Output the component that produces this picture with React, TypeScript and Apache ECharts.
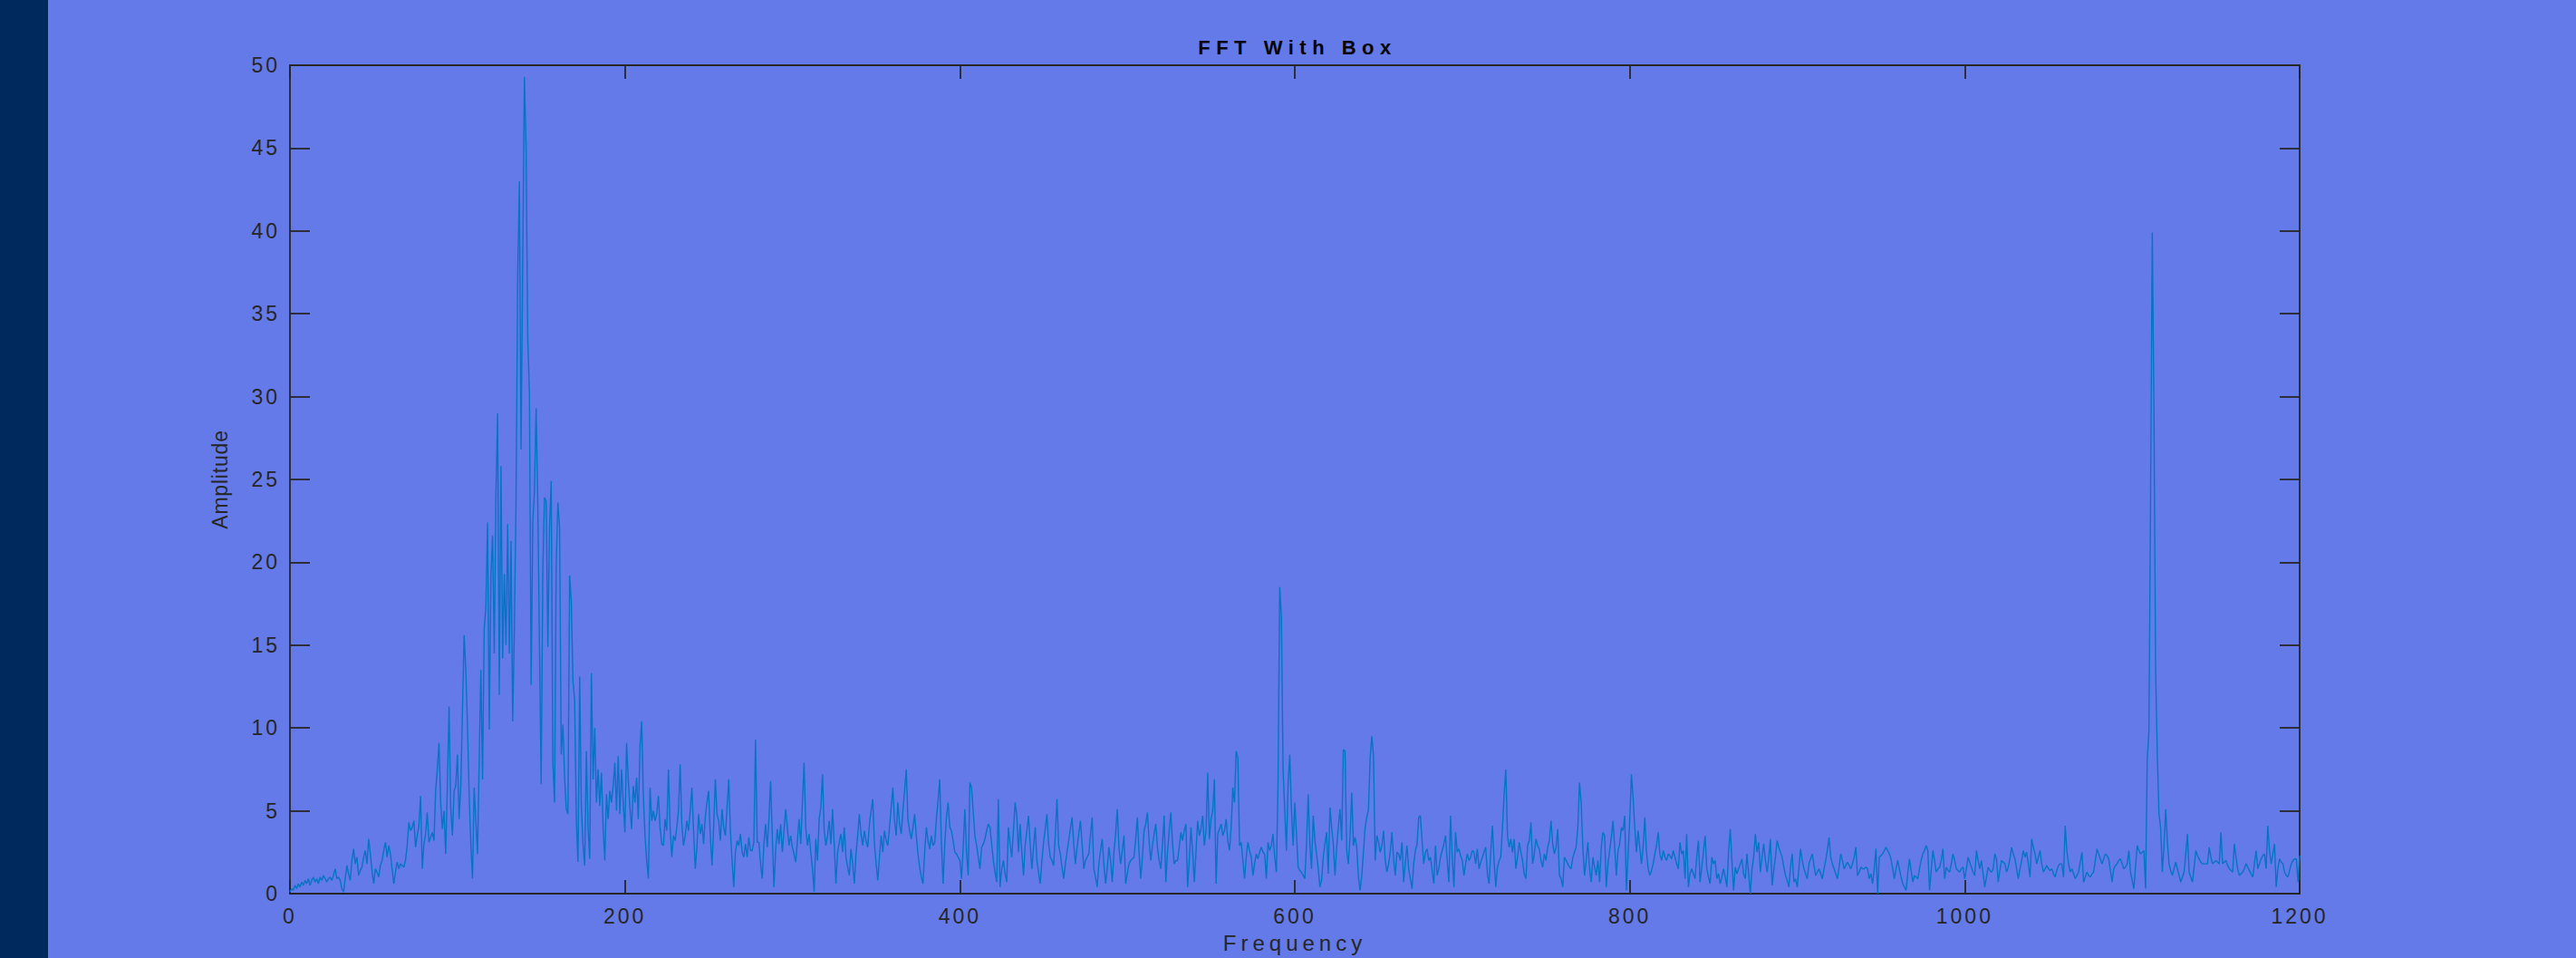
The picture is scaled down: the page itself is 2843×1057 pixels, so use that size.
import React, { useEffect, useRef } from "react";
import * as echarts from "echarts";

const TITLE = "FFT With Box";
const X_NAME = "Frequency";
const Y_NAME = "Amplitude";

const X_MIN = 0;
const X_MAX = 1200;
const X_STEP = 200;
const Y_MIN = 0;
const Y_MAX = 50;
const Y_STEP = 5;

// Amplitude per 1 Hz, 0..199
const amp0 = [
  0.1, 0.3, 0.2, 0.5, 0.3, 0.6, 0.4, 0.7, 0.5, 0.8, 0.6, 0.9, 0.5, 0.8, 1.0, 0.7, 0.9, 0.6, 1.0, 0.8,
  1.1, 0.9, 0.7, 0.9, 1.0, 0.8, 1.1, 1.5, 0.9, 1.0, 0.8, 0.3, 0.1, 0.9, 1.7, 1.2, 0.8, 2.0, 2.7, 1.8,
  2.2, 1.1, 1.4, 1.6, 2.2, 2.6, 1.8, 3.3, 2.4, 1.4, 0.6, 1.5, 1.3, 1.0, 1.7, 2.0, 2.6, 3.1, 2.2, 2.9,
  2.4, 1.5, 0.6, 1.3, 1.9, 1.5, 1.8, 1.7, 1.6, 2.0, 2.9, 4.3, 3.8, 4.0, 4.4, 2.8, 3.5, 4.1, 5.9, 1.5,
  3.0, 3.6, 4.9, 3.1, 3.4, 3.7, 3.2, 6.2, 7.5, 9.1, 5.5, 3.9, 5.0, 2.4, 6.5, 11.3, 5.2, 3.5, 6.2, 6.5,
  8.4, 4.5, 6.5, 11.0, 15.6, 13.5, 10.2, 6.0, 3.0, 0.9, 6.4, 4.4, 2.4, 8.0, 13.5, 6.9, 16.0, 17.3, 22.4, 9.9,
  19.2, 21.6, 14.5, 24.1, 29.0, 12.0, 25.8, 14.2, 19.3, 15.0, 22.3, 14.5, 21.3, 10.4, 16.0, 23.7, 37.3, 43.0, 26.8, 38.3,
  49.3, 45.0, 33.5, 30.2, 12.6, 22.4, 24.3, 29.3, 23.5, 14.9, 6.6, 19.6, 23.9, 23.7, 14.9, 22.1, 24.9, 7.9, 5.5, 19.9,
  23.6, 22.1, 8.4, 10.2, 7.0, 5.1, 4.8, 19.2, 17.6, 12.8, 11.7, 4.4, 1.9, 13.1, 5.3, 3.0, 1.7, 8.6, 4.0, 2.1,
  13.3, 6.9, 10.0, 5.5, 7.5, 5.3, 7.3, 4.0, 2.0, 6.0, 4.5, 6.2, 5.5, 6.5, 7.9, 5.0, 8.3, 4.8, 7.5, 5.5,
];

// 200..399
const amp200 = [
  3.7, 9.1, 6.9, 5.2, 3.9, 6.5, 5.5, 7.0, 4.5, 8.8, 10.4, 6.0, 3.5, 2.0, 0.9, 6.4, 4.4, 5.0, 4.4, 4.8,
  5.9, 4.0, 3.0, 2.9, 4.5, 3.8, 7.5, 4.0, 2.2, 3.5, 3.2, 4.0, 5.0, 7.8, 4.2, 2.9, 3.5, 4.4, 3.8, 5.0,
  6.4, 3.8, 1.5, 2.8, 4.8, 3.6, 4.2, 3.0, 4.6, 5.5, 6.2, 3.5, 1.7, 4.0, 6.9, 4.8, 4.4, 3.2, 5.1, 4.0,
  3.5, 5.2, 6.9, 3.8, 2.0, 0.4, 2.5, 3.2, 2.9, 3.6, 2.5, 2.2, 3.0, 2.2, 3.4, 2.6, 2.6, 3.1, 9.3, 3.1,
  3.1, 1.8, 0.9, 3.0, 4.2, 2.8, 4.5, 6.8, 3.5, 0.4, 2.6, 3.9, 3.0, 4.2, 2.5, 3.8, 5.1, 4.0, 2.9, 3.5,
  2.8, 2.4, 1.9, 3.2, 4.5, 3.0, 5.5, 7.9, 4.0, 2.9, 3.6, 2.5, 1.5, 0.1, 3.3, 2.0, 4.5, 5.2, 7.2, 3.8,
  2.9, 3.5, 4.4, 3.0, 5.1, 3.0, 0.6, 2.5, 3.1, 3.6, 2.5, 4.0, 2.2, 1.6, 1.1, 2.7, 1.8, 0.6, 2.4, 3.5,
  4.8, 3.6, 2.9, 3.8, 3.2, 2.8, 4.2, 5.0, 5.7, 3.0, 1.8, 0.8, 2.2, 3.5, 2.5, 3.8, 3.2, 2.9, 4.0, 5.2,
  6.4, 4.4, 3.5, 5.5, 4.2, 3.6, 5.0, 6.2, 7.5, 4.5, 3.8, 3.3, 4.0, 4.8, 3.5, 2.4, 1.6, 1.0, 0.6, 2.5,
  4.0, 3.2, 2.7, 3.5, 2.9, 3.1, 4.5, 5.6, 6.9, 3.0, 0.6, 3.0, 4.6, 5.5, 4.0, 3.8, 3.2, 2.5, 2.4, 2.2,
];

// 400..599
const amp400 = [
  2.0, 0.9, 2.8, 5.1, 2.5, 1.1, 6.7, 6.4, 4.9, 3.5, 2.9, 2.2, 1.5, 2.8, 3.0, 3.3, 3.8, 4.2, 4.0, 3.0,
  2.0, 1.3, 0.7, 5.7, 0.4, 1.5, 2.0, 1.2, 0.7, 4.0, 3.0, 2.2, 3.8, 5.5, 4.7, 2.5, 4.2, 2.5, 1.1, 2.9,
  3.8, 4.7, 3.0, 1.5, 2.8, 4.0, 2.0, 1.3, 0.6, 2.0, 3.1, 3.9, 4.8, 3.0, 2.2, 2.0, 1.7, 3.5, 5.7, 2.9,
  2.4, 1.6, 0.9, 1.8, 2.5, 3.2, 3.9, 4.6, 3.0, 1.8, 2.8, 3.6, 4.4, 3.0, 1.5, 2.0, 2.2, 2.4, 3.5, 4.6,
  1.5, 1.0, 0.4, 1.8, 2.6, 3.3, 1.8, 0.6, 1.5, 2.8, 2.0, 0.7, 2.5, 3.6, 5.1, 2.8, 1.8, 2.6, 3.5, 0.6,
  1.2, 1.8, 2.0, 2.1, 2.2, 3.3, 4.6, 2.5, 0.9, 2.2, 3.8, 4.2, 4.9, 3.2, 2.0, 2.9, 3.6, 4.2, 2.8, 2.0,
  1.5, 3.0, 4.7, 0.7, 2.5, 3.8, 4.9, 3.0, 1.8, 2.0, 2.0, 2.8, 3.7, 3.2, 3.8, 4.2, 0.4, 2.0, 4.0, 2.5,
  0.7, 2.5, 4.4, 3.5, 3.9, 4.7, 2.9, 3.8, 7.3, 3.3, 4.5, 5.0, 6.9, 0.6, 3.6, 3.9, 4.2, 3.5, 3.8, 4.5,
  3.2, 2.6, 4.0, 6.4, 5.5, 8.6, 8.2, 2.9, 3.1, 2.0, 0.9, 2.2, 3.1, 2.6, 2.2, 1.1, 1.8, 2.4, 2.1, 2.5,
  2.8, 2.5, 2.4, 0.9, 3.1, 2.6, 2.9, 3.6, 2.2, 1.3, 6.7, 18.5, 16.7, 7.5, 5.1, 2.6, 6.6, 8.4, 5.1, 2.9,
];

// 600..799
const amp600 = [
  5.5, 3.6, 1.6, 1.4, 1.3, 1.1, 0.9, 3.0, 6.0, 3.0, 1.5, 4.7, 3.2, 2.4, 1.5, 0.4, 0.8, 2.2, 3.0, 3.7,
  1.2, 5.2, 4.0, 3.0, 1.1, 2.8, 4.0, 5.1, 3.2, 8.7, 8.6, 2.6, 1.8, 3.5, 6.1, 2.9, 3.4, 2.8, 1.0, 0.2,
  1.1, 2.5, 4.0, 4.6, 5.1, 8.2, 9.5, 8.3, 2.0, 3.5, 3.1, 2.5, 2.9, 3.8, 2.0, 1.3, 1.8, 2.5, 3.7, 2.1,
  1.1, 2.5, 2.4, 2.0, 3.1, 0.7, 1.9, 2.9, 1.5, 0.9, 0.3, 1.8, 2.6, 3.0, 4.6, 4.7, 3.2, 1.8, 2.5, 2.7,
  2.0, 2.2, 1.4, 0.6, 2.9, 1.1, 1.5, 2.2, 2.6, 3.0, 3.5, 2.0, 0.7, 4.7, 2.2, 0.4, 3.7, 2.5, 2.7, 2.3,
  2.0, 1.1, 1.8, 2.4, 2.0, 2.2, 2.6, 2.5, 1.8, 2.7, 1.5, 1.9, 2.2, 2.5, 2.8, 1.2, 0.6, 2.5, 4.1, 2.0,
  0.4, 1.6, 2.0, 2.2, 4.0, 6.0, 7.5, 3.5, 2.8, 3.3, 2.5, 3.3, 1.5, 2.2, 3.1, 2.5, 2.0, 1.2, 0.9, 2.9,
  3.2, 4.3, 1.8, 2.4, 3.3, 2.9, 2.7, 2.0, 1.6, 2.4, 2.0, 2.8, 3.2, 4.4, 3.0, 2.4, 2.8, 3.9, 1.1, 0.9,
  0.4, 2.2, 2.0, 1.8, 1.6, 1.5, 2.2, 2.5, 2.8, 4.0, 6.7, 5.5, 2.8, 1.1, 2.0, 3.1, 1.5, 0.7, 2.2, 1.6,
  1.1, 2.0, 0.7, 2.8, 3.7, 3.5, 0.4, 1.8, 2.6, 3.4, 4.4, 2.8, 1.1, 2.6, 3.0, 4.0, 3.8, 4.7, 0.2, 2.4,
];

// 800..999
const amp800 = [
  4.4, 7.2, 5.8, 4.0, 2.5, 3.8, 2.8, 1.8, 2.8, 4.6, 2.5, 1.5, 1.1, 1.4, 1.8, 2.4, 2.9, 3.7, 2.4, 2.0,
  2.6, 2.2, 2.0, 2.4, 2.3, 2.1, 2.6, 2.2, 1.8, 1.5, 3.1, 2.4, 2.6, 0.9, 3.6, 0.4, 1.2, 1.5, 1.2, 0.9,
  2.2, 3.2, 0.7, 1.6, 2.5, 3.5, 1.5, 1.0, 0.6, 2.2, 1.8, 2.0, 0.9, 1.2, 0.6, 1.0, 1.5, 1.0, 0.4, 2.5,
  3.9, 2.0, 0.2, 1.6, 1.2, 1.5, 1.8, 2.1, 1.2, 0.9, 2.4, 1.2, 0.0, 1.5, 2.2, 3.6, 2.5, 3.1, 1.3, 2.2,
  3.0, 2.0, 1.3, 2.1, 3.3, 0.5, 1.4, 2.2, 3.2, 2.8, 2.5, 2.2, 1.6, 1.1, 0.8, 0.4, 1.6, 2.4, 0.7, 0.9,
  0.4, 1.5, 2.7, 2.0, 1.5, 1.2, 0.9, 1.8, 2.1, 2.4, 1.7, 1.1, 1.3, 1.5, 1.2, 0.9, 1.5, 2.0, 2.6, 3.4,
  2.2, 1.8, 1.5, 1.2, 0.9, 1.6, 2.4, 2.0, 1.5, 1.7, 1.9, 1.7, 1.5, 1.8, 2.2, 2.8, 1.1, 1.3, 1.6, 1.5,
  1.5, 1.6, 1.5, 0.9, 1.2, 0.6, 1.5, 2.7, 0.0, 2.2, 2.3, 2.4, 2.6, 2.8, 2.6, 2.4, 2.1, 1.5, 0.9, 1.5,
  2.0, 1.5, 1.0, 0.6, 0.4, 0.2, 1.2, 2.1, 1.4, 0.7, 1.1, 1.0, 0.9, 1.5, 2.0, 2.4, 2.6, 2.9, 2.6, 0.2,
  1.4, 2.6, 2.0, 1.3, 1.5, 1.6, 2.0, 2.7, 0.9, 1.6, 1.4, 1.3, 1.8, 2.4, 2.0, 1.5, 1.4, 1.3, 1.5, 1.6,
];

// 1000..1200
const amp1000 = [
  0.9, 1.5, 2.2, 1.9, 1.6, 1.3, 1.1, 2.6, 2.0, 1.5, 2.0, 1.2, 0.4, 1.0, 1.6, 1.4, 1.3, 1.5, 2.4, 2.1,
  0.7, 1.4, 2.0, 1.9, 1.8, 1.3, 1.6, 2.1, 2.8, 2.4, 2.1, 1.5, 0.9, 1.5, 2.0, 2.6, 2.2, 2.5, 1.8, 1.0,
  3.3, 2.8, 2.4, 1.8, 2.2, 2.6, 1.8, 1.3, 1.5, 1.7, 1.5, 1.4, 1.5, 1.2, 1.0, 1.4, 1.7, 1.8, 1.8, 1.0,
  4.1, 2.6, 1.8, 1.3, 1.5, 1.2, 0.9, 1.1, 1.3, 1.9, 2.5, 0.7, 1.0, 1.3, 1.1, 1.0, 1.2, 1.3, 2.0, 2.7,
  2.4, 2.1, 1.8, 2.1, 2.4, 2.3, 2.1, 1.4, 0.7, 1.5, 1.7, 1.8, 2.0, 2.1, 1.8, 1.5, 1.6, 1.8, 2.6, 1.3,
  0.8, 0.3, 1.6, 2.9, 2.6, 2.4, 2.5, 2.6, 0.3, 8.1, 9.8, 23.9, 39.9, 29.3, 13.5, 8.5, 4.8, 4.0, 1.3, 2.9,
  5.1, 3.2, 1.8, 1.4, 1.1, 1.5, 1.9, 1.5, 1.1, 0.7, 1.0, 1.3, 2.4, 3.6, 1.3, 1.0, 0.7, 1.6, 2.6, 2.3,
  2.1, 1.9, 1.8, 1.8, 1.8, 1.8, 2.8, 2.2, 1.8, 1.9, 2.0, 1.9, 1.8, 3.7, 1.8, 1.9, 2.0, 1.7, 1.5, 1.4,
  1.3, 3.0, 2.2, 1.5, 1.1, 1.2, 1.3, 1.5, 1.8, 1.6, 1.4, 1.2, 1.0, 1.8, 2.6, 1.5, 1.8, 2.1, 2.3, 2.4,
  1.5, 4.1, 2.6, 1.8, 2.4, 3.0, 0.4, 1.5, 2.1, 1.9, 1.8, 1.3, 1.1, 1.0, 1.4, 1.8, 2.0, 2.1, 2.1, 0.7, 2.3,
];

const segments: [number, number[]][] = [
  [0, amp0],
  [200, amp200],
  [400, amp400],
  [600, amp600],
  [800, amp800],
  [1000, amp1000],
];

const seriesData: [number, number][] = [];
segments.forEach(([start, vals]) => {
  vals.forEach((v, i) => seriesData.push([start + i, v]));
});

const BG = "#647AE8";
const STRIP = "#00295D";
const AXIS = "#262626";
const LINE = "#0574C4";
const FONT = "'Liberation Sans', Arial, sans-serif";

const plainNumber = (v: number) => String(v);

export default function App() {
  const ref = useRef<HTMLDivElement>(null);

  useEffect(() => {
    document.body.style.margin = "0";
    const el = ref.current!;
    const chart = echarts.init(el, null, { renderer: "svg" });

    const axisLine = { show: true, onZero: false, lineStyle: { color: AXIS, width: 1.8 } };
    const labelStyle = { color: AXIS, fontSize: 23, fontFamily: FONT, formatter: plainNumber };

    chart.setOption({
      animation: false,
      backgroundColor: BG,
      grid: { left: 320, top: 72, width: 2218, height: 915, containLabel: false },
      graphic: [
        {
          type: "rect",
          silent: true,
          shape: { x: 0, y: 0, width: 53, height: 1057 },
          style: { fill: STRIP },
        },
        {
          type: "text",
          silent: true,
          x: 1432,
          y: 52,
          style: {
            text: TITLE,
            fill: "#050505",
            fontSize: 22,
            fontWeight: "bold",
            fontFamily: FONT,
            align: "center",
            verticalAlign: "middle",
            textAlign: "center",
            textVerticalAlign: "middle",
          },
        },
      ],
      xAxis: [
        {
          type: "value",
          position: "bottom",
          min: X_MIN,
          max: X_MAX,
          interval: X_STEP,
          name: X_NAME,
          nameLocation: "middle",
          nameGap: 42,
          nameTextStyle: { color: AXIS, fontSize: 24, fontFamily: FONT },
          axisLine,
          axisTick: { show: true, inside: true, length: 15, lineStyle: { color: AXIS, width: 1.8 } },
          axisLabel: { ...labelStyle, margin: 13 },
          splitLine: { show: false },
        },
        {
          type: "value",
          position: "top",
          min: X_MIN,
          max: X_MAX,
          interval: X_STEP,
          axisLine,
          axisTick: { show: true, inside: true, length: 15, lineStyle: { color: AXIS, width: 1.8 } },
          axisLabel: { show: false },
          splitLine: { show: false },
        },
      ],
      yAxis: [
        {
          type: "value",
          position: "left",
          min: Y_MIN,
          max: Y_MAX,
          interval: Y_STEP,
          name: Y_NAME,
          nameLocation: "middle",
          nameGap: 66,
          nameTextStyle: { color: AXIS, fontSize: 23, fontFamily: FONT },
          axisLine,
          axisTick: { show: true, inside: true, length: 22, lineStyle: { color: AXIS, width: 1.8 } },
          axisLabel: { ...labelStyle, margin: 11 },
          splitLine: { show: false },
        },
        {
          type: "value",
          position: "right",
          min: Y_MIN,
          max: Y_MAX,
          interval: Y_STEP,
          axisLine,
          axisTick: { show: true, inside: true, length: 22, lineStyle: { color: AXIS, width: 1.8 } },
          axisLabel: { show: false },
          splitLine: { show: false },
        },
      ],
      series: [
        {
          type: "line",
          xAxisIndex: 0,
          yAxisIndex: 0,
          data: seriesData,
          showSymbol: false,
          symbol: "none",
          lineStyle: { color: LINE, width: 1.4 },
          itemStyle: { color: LINE },
          silent: true,
          z: 1,
        },
      ],
    });

    const spacing = () => {
      el.querySelectorAll("text").forEach((t) => {
        const s = t.textContent || "";
        if (s === TITLE) t.setAttribute("letter-spacing", "6.5");
        else if (s === X_NAME) t.setAttribute("letter-spacing", "5");
        else if (s === Y_NAME) t.setAttribute("letter-spacing", "0.8");
        else if (/^\d+$/.test(s)) t.setAttribute("letter-spacing", "3");
      });
    };
    spacing();
    chart.on("finished", spacing);

    return () => {
      chart.dispose();
    };
  }, []);

  return (
    <div
      ref={ref}
      style={{ position: "absolute", left: 0, top: 0, width: 2843, height: 1057 }}
    />
  );
}
